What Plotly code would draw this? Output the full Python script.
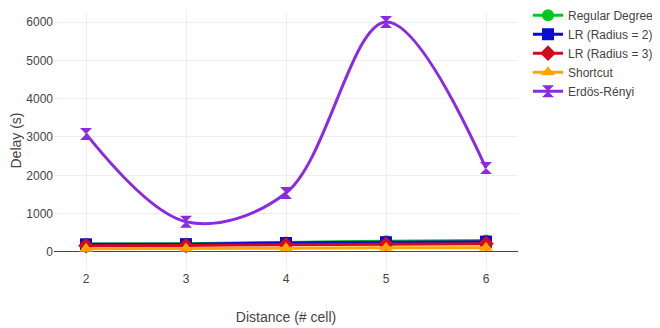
import plotly.graph_objects as go

distance = [2, 3, 4, 5, 6]

regular_degree = [210, 215, 250, 280, 300]
lr_radius2 = [200, 205, 235, 255, 270]
lr_radius3 = [165, 170, 190, 205, 217]
shortcut = [87, 92, 100, 108, 113]
erdos_renyi = [3080, 790, 1540, 6000, 2190]

series = [
    ("Regular Degree", regular_degree, "#00c81e", "circle"),
    ("LR (Radius = 2)", lr_radius2, "#0a0ad2", "square"),
    ("LR (Radius = 3)", lr_radius3, "#d20a1e", "diamond"),
    ("Shortcut", shortcut, "#ffa500", "triangle-up"),
    ("Erdös-Rényi", erdos_renyi, "#8a2be2", "hourglass"),
]

fig = go.Figure()
for name, vals, color, symbol in series:
    fig.add_trace(go.Scatter(
        x=distance, y=vals, name=name, mode="lines+markers",
        line=dict(color=color, width=3, shape="spline"),
        marker=dict(color=color, symbol=symbol, size=12),
    ))

# page body has an 8px margin, so the figure is a bit smaller than the window
fig.update_layout(
    template="none",
    width=652, height=320,
    font=dict(family="Arial", size=12, color="#444"),
    margin=dict(l=46, r=142, t=3, b=58, autoexpand=False),
    plot_bgcolor="white", paper_bgcolor="white",
    legend=dict(x=1.0216, y=1.04, xanchor="left", yanchor="top", font=dict(size=12)),
)
fig.update_xaxes(title_text="Distance (# cell)", tickvals=distance, range=[1.68, 6.32],
                 gridcolor="#eee", zeroline=False, title_font=dict(size=14),
                 title_standoff=27)
fig.update_yaxes(title_text="Delay (s)", gridcolor="#eee", range=[-470, 6287],
                 zeroline=True, zerolinecolor="#444", zerolinewidth=1,
                 title_font=dict(size=14), title_standoff=30)

fig.write_html("out.html")
